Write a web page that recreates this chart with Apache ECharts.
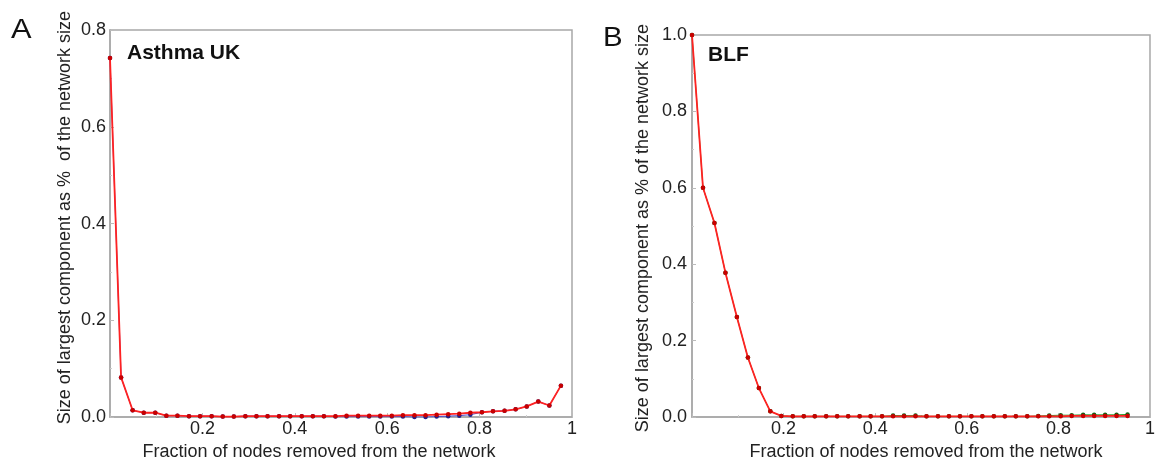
<!DOCTYPE html>
<html>
<head>
<meta charset="utf-8">
<script src="https://cdn.jsdelivr.net/npm/echarts@6/dist/echarts.min.js"></script>
<style>
html,body{margin:0;padding:0;background:#fff;}
#c{width:1158px;height:466px;}
</style>
</head>
<body>
<div id="c"></div>
<script>
// Panel A: Asthma UK
const xA = [0, 0.024, 0.049, 0.073, 0.098, 0.122, 0.146, 0.171, 0.195, 0.220, 0.244, 0.268, 0.293, 0.317, 0.341, 0.366, 0.390, 0.415, 0.439, 0.463, 0.488, 0.512, 0.537, 0.561, 0.585, 0.610, 0.634, 0.659, 0.683, 0.707, 0.732, 0.756, 0.780, 0.805, 0.829, 0.854, 0.878, 0.902, 0.927, 0.951, 0.976];
const redA = [0.742, 0.082, 0.014, 0.009, 0.009, 0.003, 0.003, 0.002, 0.002, 0.002, 0.001, 0.001, 0.002, 0.002, 0.002, 0.002, 0.002, 0.002, 0.002, 0.002, 0.002, 0.003, 0.003, 0.003, 0.003, 0.003, 0.004, 0.004, 0.004, 0.005, 0.006, 0.007, 0.009, 0.010, 0.012, 0.013, 0.016, 0.022, 0.032, 0.024, 0.065];
const blueA = [0.742, 0.082, 0.014, 0.009, 0.009, 0.003, 0.003, 0.002, 0.002, 0.002, 0.001, 0.001, 0.002, 0.002, 0.002, 0.002, 0.002, 0.002, 0.002, 0.002, 0.001, 0.001, 0.001, 0.001, 0.001, 0.001, 0.001, 0.000, 0.000, 0.001, 0.002, 0.003, 0.005, 0.010, 0.012, 0.013, 0.016, 0.022, 0.032, 0.024, 0.065];
// Panel B: BLF
const xB = [0, 0.024, 0.049, 0.073, 0.098, 0.122, 0.146, 0.171, 0.195, 0.220, 0.244, 0.268, 0.293, 0.317, 0.341, 0.366, 0.390, 0.415, 0.439, 0.463, 0.488, 0.512, 0.537, 0.561, 0.585, 0.610, 0.634, 0.659, 0.683, 0.707, 0.732, 0.756, 0.780, 0.805, 0.829, 0.854, 0.878, 0.902, 0.927, 0.951];
const redB = [1.0, 0.600, 0.508, 0.378, 0.262, 0.156, 0.076, 0.015, 0.003, 0.002, 0.002, 0.002, 0.002, 0.002, 0.002, 0.002, 0.002, 0.002, 0.002, 0.002, 0.002, 0.002, 0.002, 0.002, 0.002, 0.002, 0.002, 0.002, 0.002, 0.002, 0.002, 0.002, 0.002, 0.002, 0.003, 0.003, 0.003, 0.003, 0.003, 0.003];
const greenB = [1.0, 0.600, 0.508, 0.378, 0.262, 0.156, 0.076, 0.015, 0.003, 0.002, 0.002, 0.002, 0.002, 0.002, 0.002, 0.002, 0.002, 0.002, 0.004, 0.004, 0.004, 0.002, 0.002, 0.002, 0.002, 0.002, 0.002, 0.002, 0.002, 0.002, 0.002, 0.003, 0.004, 0.005, 0.005, 0.006, 0.006, 0.006, 0.006, 0.007];
const yTitleA = 'Size of largest component as %  of the network size';
const yTitleB = 'Size of largest component as % of the network size';
const xTitle = 'Fraction of nodes removed from the network';

const FONT = '"Liberation Sans", Arial, sans-serif';
const zip = (xs, ys) => xs.map((x, i) => [x, ys[i]]);

function xAxisCfg(grid, namePad) {
  return {
    type: 'value', gridIndex: grid, min: 0, max: 1, interval: 0.2,
    name: xTitle, nameLocation: 'middle', nameGap: 21,
    nameTextStyle: {fontFamily: FONT, fontSize: 18, color: '#222', padding: namePad},
    axisLine: {show: true, lineStyle: {color: '#a8a8a8', width: 1.5}},
    axisTick: {show: true, inside: true, length: 4, lineStyle: {color: '#bbb'}},
    minorTick: {show: true, splitNumber: 2, length: 2, lineStyle: {color: '#ccc'}},
    splitLine: {show: false},
    axisLabel: {fontFamily: FONT, fontSize: 18, color: '#222', margin: 3,
      formatter: v => v === 0 ? '' : (Math.abs(v - 1) < 1e-9 ? '1' : v.toFixed(1))}
  };
}
function yAxisCfg(grid, max, title, gap, margin, namePad) {
  return {
    type: 'value', gridIndex: grid, min: 0, max: max, interval: 0.2,
    name: title, nameLocation: 'middle', nameGap: gap, nameRotate: 90,
    nameTextStyle: {fontFamily: FONT, fontSize: 18, color: '#222', padding: namePad},
    axisLine: {show: true, lineStyle: {color: '#a8a8a8', width: 1.5}},
    axisTick: {show: true, inside: true, length: 4, lineStyle: {color: '#bbb'}},
    minorTick: {show: true, splitNumber: 2, length: 2, lineStyle: {color: '#ccc'}},
    splitLine: {show: false},
    axisLabel: {fontFamily: FONT, fontSize: 18, color: '#222', margin: margin,
      formatter: v => v.toFixed(1)}
  };
}
function lineSeries(xi, yi, data, color, dot, width, z) {
  return {
    type: 'line', xAxisIndex: xi, yAxisIndex: yi, data: data, z: z,
    symbol: 'circle', symbolSize: 4.5, showSymbol: true, animation: false,
    lineStyle: {color: color, width: width},
    itemStyle: {color: dot, borderWidth: 0}
  };
}

const chart = echarts.init(document.getElementById('c'), null, {renderer: 'canvas'});
chart.setOption({
  backgroundColor: '#fff',
  animation: false,
  grid: [
    {left: 110, top: 30, width: 462, height: 392, show: true, borderColor: '#a8a8a8', borderWidth: 1.5, backgroundColor: 'transparent'},
    {left: 692, top: 35, width: 464, height: 391, show: true, borderColor: '#a8a8a8', borderWidth: 1.5, backgroundColor: 'transparent'}
  ],
  xAxis: [xAxisCfg(0, [0, 44, 0, 0]), xAxisCfg(1, [0, 0, 0, 10])],
  yAxis: [yAxisCfg(0, 0.8, yTitleA, 36, 4, [0, 0, 0, 12]), yAxisCfg(1, 1.0, yTitleB, 40, 5, [0, 4, 0, 0])],
  graphic: [
    {type: 'text', x: 11, y: 30, scaleX: 1.1, style: {text: 'A', font: '28px ' + FONT, fill: '#111', verticalAlign: 'middle'}},
    {type: 'text', x: 603, y: 38, scaleX: 1.05, style: {text: 'B', font: '28px ' + FONT, fill: '#111', verticalAlign: 'middle'}},
    {type: 'text', x: 127, y: 53, style: {text: 'Asthma UK', font: 'bold 21px ' + FONT, fill: '#111', verticalAlign: 'middle'}},
    {type: 'text', x: 708, y: 55, style: {text: 'BLF', font: 'bold 21px ' + FONT, fill: '#111', verticalAlign: 'middle'}}
  ],
  series: [
    lineSeries(0, 0, zip(xA, blueA), '#4a4ad0', '#20208a', 1, 2),
    lineSeries(0, 0, zip(xA, redA), '#ff2222', '#c80000', 1.8, 3),
    lineSeries(1, 1, zip(xB, greenB), '#2a9a2a', '#106010', 1, 2),
    lineSeries(1, 1, zip(xB, redB), '#ff2222', '#c80000', 1.8, 3)
  ]
});
</script>
</body>
</html>
